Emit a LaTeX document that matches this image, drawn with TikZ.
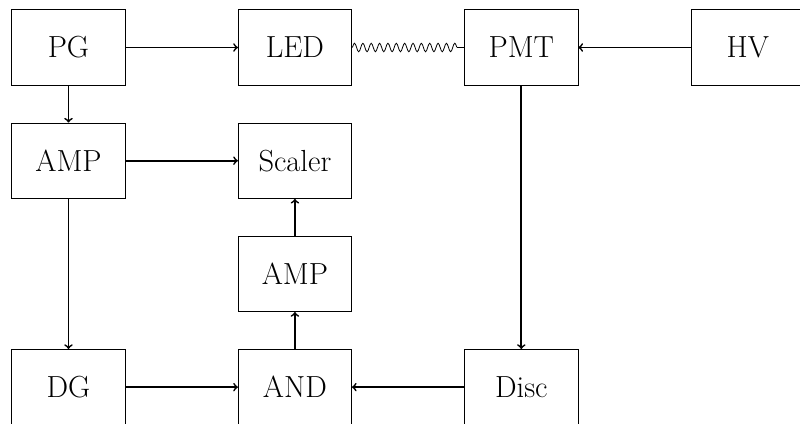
\documentclass[tikz,border=0pt]{standalone}
\usetikzlibrary{decorations.pathmorphing}
\begin{document}
\begin{tikzpicture}[
  blk/.style={draw=black, line width=0.6pt, minimum width=3cm, minimum height=2cm, inner sep=0pt, font=\fontsize{23}{27}\selectfont},
  conn/.style={->, line width=1.3pt},
  wave/.style={decorate, decoration={snake, segment length=6.3pt, amplitude=3.2pt, pre length=0pt, post length=5pt}, line width=0.6pt}
]
\useasboundingbox (-1.815,1.259) rectangle (19.385,-9.951);
\node[blk] (pg) at (0,0) {PG};
\node[blk] (led) at (6,0) {LED};
\node[blk] (pmt) at (12,0) {PMT};
\node[blk] (hv) at (18,0) {HV};
\node[blk] (amp1) at (0,-3) {AMP};
\node[blk] (sc) at (6,-3) {Scaler};
\node[blk] (amp2) at (6,-6) {AMP};
\node[blk] (dg) at (0,-9) {DG};
\node[blk] (and) at (6,-9) {AND};
\node[blk] (disc) at (12,-9) {Disc};
\draw[conn] (pg) -- (led);
\draw[conn] (pg) -- (amp1);
\draw[conn] (amp1) -- (sc);
\draw[conn] (amp1) -- (dg);
\draw[conn] (hv) -- (pmt);
\draw[conn] (pmt) -- (disc);
\draw[conn] (disc) -- (and);
\draw[conn] (dg) -- (and);
\draw[conn] (and) -- (amp2);
\draw[conn] (amp2) -- (sc);
\draw[wave] (led) -- (pmt);
\end{tikzpicture}
\end{document}
